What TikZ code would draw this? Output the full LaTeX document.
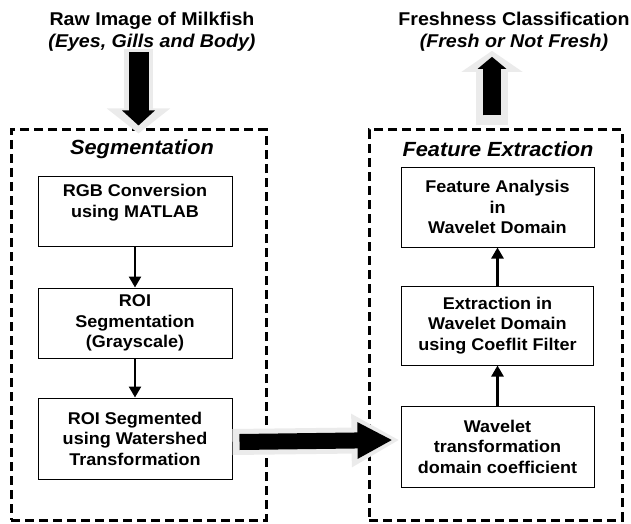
\documentclass[tikz,border=0pt]{standalone}
\usepackage{fontspec}
\setmainfont{Liberation Sans}[FakeStretch=1.06]
\usepackage{tikz}
\usetikzlibrary{arrows.meta, positioning, calc}

\begin{document}
\begin{tikzpicture}[
  x=1pt, y=1pt,
  every node/.style={align=center},
  headtext/.style={inner sep=0pt, font=\fontsize{18.5}{22}\selectfont\bfseries},
  frame/.style={rectangle, draw, line width=3pt, dash pattern=on 9pt off 5pt},
  frametitle/.style={font=\fontsize{20.5}{24}\selectfont\bfseries\itshape},
  stepbox/.style={rectangle, draw, line width=1pt, minimum width=194pt,
                  font=\fontsize{17}{20.5}\selectfont\bfseries},
  arrow/.style={-{Triangle[width=12pt,length=11pt]}, line width=2.5pt},
  shadowarrow/.style={black!8, line width=#1}
]
\useasboundingbox (0,0) rectangle (631,523);

\node[headtext] (raw)   at (152,491) {Raw Image of Milkfish\\\textit{(Eyes, Gills and Body)}};
\node[headtext] (fresh) at (514,491) {Freshness Classification\\\textit{(Fresh or Not Fresh)}};

\node[frame, minimum width=255pt, minimum height=390pt] (segframe)  at (138.5,198) {};
\node[frame, minimum width=253pt, minimum height=390pt] (featframe) at (495.5,198) {};
\node[frametitle] (seglabel)  at (142,374) {Segmentation};
\node[frametitle] (featlabel) at (498,374) {Feature Extraction};

\node[stepbox, minimum height=70pt] (rgb) at (135,312) {RGB Conversion\\using MATLAB\\~};
\node[stepbox, minimum height=70pt, below=41pt of rgb] (roi) {ROI\\Segmentation\\(Grayscale)};
\node[stepbox, minimum height=81pt, below=39pt of roi] (roiw) {ROI Segmented\\using Watershed\\Transformation};

\node[stepbox, minimum width=193pt, minimum height=81pt] (wave) at (497.5,76.5) {Wavelet\\transformation\\domain coefficient};
\node[stepbox, minimum width=192pt, minimum height=79pt, above=40pt of wave] (extr) {Extraction in\\Wavelet Domain\\using Coeflit Filter};
\node[stepbox, minimum width=193pt, minimum height=80pt, above=38pt of extr] (fan) {Feature Analysis\\in\\Wavelet Domain};

\draw[arrow] (rgb) -- (roi);
\draw[arrow] (roi) -- (roiw);
\draw[arrow] (wave) -- (extr);
\draw[arrow] (extr) -- (fan);

% block arrows
\draw[shadowarrow=29pt, -{Triangle[width=62pt,length=25pt]}]
  ([yshift=3pt]raw.south -| segframe.north) -- ([yshift=-5pt]segframe.north);
\draw[line width=20pt, -{Triangle[width=32pt,length=15pt]}]
  (raw.south -| segframe.north) -- ([yshift=3pt]segframe.north);

\draw[shadowarrow=32pt, -{Triangle[width=60pt,length=21pt]}]
  ([xshift=-3.5pt,yshift=3pt]featframe.north) -- ($(featframe.north |- fresh.south)+(-3.5,1)$);
\draw[line width=18pt, -{Triangle[width=28pt,length=12pt]}]
  ([xshift=-3.5pt,yshift=13pt]featframe.north) -- ($(featframe.north |- fresh.south)+(-3.5,-5)$);

\draw[shadowarrow=26pt, -{Triangle[width=50pt,length=48pt]}]
  ([yshift=-3.5pt]roiw.east) -- ([xshift=-1pt,yshift=6.5pt]wave.west);
\draw[line width=16pt, -{Triangle[width=34pt,length=35pt]}]
  ([xshift=7pt,yshift=-3.5pt]roiw.east) -- ([xshift=-8pt,yshift=6.5pt]wave.west);
\end{tikzpicture}
\end{document}
